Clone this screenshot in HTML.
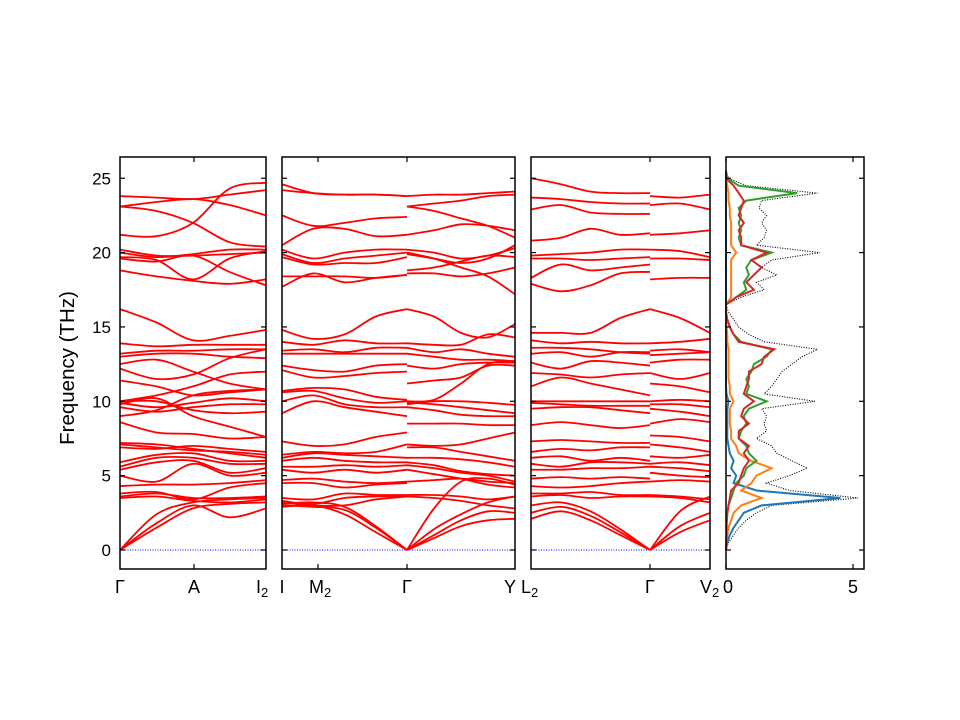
<!DOCTYPE html>
<html><head><meta charset="utf-8"><style>
html,body{margin:0;padding:0;background:#fff;}
svg{display:block;font-family:"Liberation Sans","DejaVu Sans",sans-serif;}
</style></head><body>
<svg id="fig" width="960" height="720" viewBox="0 0 960 720" xmlns="http://www.w3.org/2000/svg">
<rect width="960" height="720" fill="#fff"/>
<g id="marks"></g>
<g id="axes"></g>
<text x="0" y="0" transform="translate(74,368) rotate(-90)" text-anchor="middle" font-size="20.5">Frequency (THz)</text>
</svg>
<script>
// ---- data ----
const yTicks=[0,5,10,15,20,25];
const seg1=[[23.8,23.7,23.6,23.9,24.2],[23.1,23.4,23.6,23.2,22.5],[23.1,22.8,22.0,20.7,20.4],[21.2,21.1,22.0,24.3,24.7],[20.2,19.8,19.8,19.9,20.0],[20.0,19.7,19.9,20.2,20.2],[19.7,19.5,18.2,19.6,20.1],[19.6,19.4,19.8,18.7,17.8],[18.8,18.4,18.1,17.9,18.2],
[16.2,15.3,14.1,14.4,14.8],[13.9,13.7,13.8,13.8,13.8],[13.2,13.4,13.4,13.5,13.5],[13.0,13.2,13.2,13.0,12.9],[12.5,12.8,12.0,11.2,10.8],[12.2,11.5,11.8,12.9,13.5],[11.4,11.0,10.4,10.6,10.8],[10.0,10.4,11.0,11.8,12.0],[9.9,9.6,9.9,10.2,10.0],[9.6,9.3,9.6,9.8,9.8],[9.0,9.4,10.4,10.7,10.8],[10.0,10.0,9.4,9.2,9.3],[9.8,10.2,9.0,8.3,7.6],[8.6,7.9,7.8,7.5,7.6],
[7.2,7.1,6.8,6.5,6.2],[7.1,6.9,6.7,6.6,6.4],[6.9,6.8,7.0,6.8,6.6],[5.9,6.4,6.5,6.0,6.0],[5.6,6.2,6.2,5.8,5.8],[5.4,5.9,6.0,5.2,5.5],[5.0,4.6,5.8,5.0,5.2],[4.3,4.4,4.4,4.5,4.7],[3.8,3.9,3.4,4.2,4.5],[3.6,3.8,3.5,3.5,3.6],[3.5,3.6,3.3,3.2,3.4],[0,2.4,3.2,3.4,3.5],[0,1.8,3.0,2.2,2.8],[0,1.5,2.8,3.1,3.2]];
const seg2=[[24.6,24.0,23.9,23.9,23.8],[24.2,24.0,23.9,23.9,23.8],[22.5,21.8,22.0,22.3,22.4],[20.5,21.6,21.6,21.1,21.2],[20.2,19.6,20.0,20.2,20.2],[19.9,19.3,19.6,19.8,20.0],[19.7,19.2,19.3,19.3,19.7],[18.4,18.4,18.4,18.3,18.5],[17.7,18.6,18.0,18.3,18.5],
[14.8,14.2,14.5,15.7,16.2],[14.0,13.8,14.1,13.9,13.9],[13.4,13.5,13.3,13.6,13.6],[13.2,13.2,13.2,13.2,13.2],[12.4,12.1,12.0,12.4,12.5],[12.1,11.6,11.7,11.9,12.0],[10.7,10.9,10.8,10.3,10.1],[10.6,10.7,10.2,9.9,10.0],[10.0,10.4,9.8,9.6,9.6],[9.2,10.0,9.6,9.3,9.0],
[7.3,7.0,7.1,7.6,7.9],[6.4,6.6,6.5,6.6,7.1],[6.2,6.5,6.4,6.3,6.2],[6.0,6.2,6.0,5.9,5.9],[5.6,5.6,5.7,5.6,5.7],[5.4,5.2,5.4,5.2,5.4],[4.7,4.8,4.6,4.5,4.6],[4.5,4.5,4.2,4.4,4.5],[3.5,3.4,3.8,3.7,3.7],[3.3,3.1,3.5,3.6,3.6],[3.2,3.0,3.0,3.4,3.6],[3.0,2.9,2.7,1.5,0],[2.9,3.0,2.4,1.2,0],[3.1,3.2,2.9,1.6,0]];
const seg3=[[23.8,23.9,23.9,24.0,24.1],[23.1,23.3,23.5,23.8,23.9],[23.1,22.8,22.3,21.8,21.0],[21.2,21.5,21.9,21.8,21.5],[20.2,20.0,19.6,19.8,20.3],[19.9,19.6,19.3,19.6,20.5],[18.8,19.0,19.4,19.8,19.7],[20.0,19.6,19.0,18.4,17.2],[18.6,18.6,18.4,18.6,19.0],
[16.2,15.7,14.6,14.3,15.2],[13.9,13.8,13.8,14.5,14.3],[13.6,13.3,13.5,13.2,13.0],[13.2,13.0,12.8,12.8,12.7],[12.4,12.2,12.5,12.6,12.6],[11.2,11.4,11.6,12.4,12.4],[10.0,10.1,11.2,12.5,12.7],[9.9,9.8,9.6,9.4,9.2],[9.8,10.0,10.0,9.9,9.75],[9.6,9.4,9.1,9.0,9.0],[8.5,8.5,8.5,8.4,8.4],
[7.1,7.0,7.1,7.5,7.9],[6.9,6.9,6.6,6.3,6.0],[6.2,6.2,6.1,5.9,5.6],[5.9,5.7,5.3,5.1,5.0],[5.7,5.5,5.2,5.0,4.6],[5.4,5.1,4.8,4.4,4.2],[4.6,4.7,4.8,4.6,4.5],[3.7,3.7,3.6,3.4,3.6],[3.6,3.5,3.3,3.0,2.8],[0,2.8,4.6,4.8,4.4],[0,1.4,2.4,3.2,3.6],[0,1.0,2.0,2.6,2.5],[0,0.8,1.6,2.0,2.1]];
const seg4=[[25.0,24.6,24.1,24.0,24.0],[23.7,23.6,23.4,23.3,23.3],[22.9,23.2,22.7,22.6,22.6],[20.8,21.0,21.6,21.2,21.3],[19.8,19.9,20.0,20.2,20.2],[19.6,19.6,19.5,19.6,19.7],[18.3,19.2,18.8,19.0,19.2],[17.9,17.4,17.8,18.6,18.7],
[14.6,14.6,14.6,15.6,16.2],[14.1,13.9,14.0,13.9,13.9],[13.6,13.6,13.5,13.3,13.2],[13.2,13.3,13.0,13.3,13.3],[12.6,12.2,12.7,12.6,12.4],[11.9,11.8,11.6,11.8,11.9],[11.0,11.6,11.2,10.8,10.4],[10.0,10.0,10.0,10.0,10.0],[9.9,9.8,9.7,9.7,9.7],[9.5,9.6,9.6,9.4,9.2],[8.4,8.6,8.4,8.2,8.4],
[7.3,7.4,7.3,7.2,7.2],[6.6,6.8,6.7,6.9,6.9],[6.2,6.3,6.0,6.2,6.0],[5.8,5.6,5.9,5.9,5.8],[5.4,5.4,5.5,5.5,5.6],[4.8,4.9,4.8,4.9,4.8],[4.3,4.2,4.3,4.5,4.6],[3.8,3.8,3.9,3.7,3.7],[3.6,3.7,3.5,3.6,3.6],[3.0,3.2,2.6,1.4,0],[2.5,2.9,2.3,1.2,0],[2.1,2.6,2.0,1.0,0]];
const seg5=[[23.8,23.7,23.9],[23.2,23.3,22.9],[21.2,21.3,21.5],[20.2,20.1,19.7],[19.6,19.6,19.5],[18.2,18.3,18.3],[16.2,15.6,14.6],[13.9,14.0,14.2],[13.4,13.5,13.3],[13.1,13.2,13.3],[12.6,12.8,12.8],[11.9,11.5,11.9],[11.2,11.0,10.6],[10.0,10.1,10.0],[9.8,9.8,9.6],[9.5,9.3,9.0],[8.5,8.8,8.6],[7.7,7.6,7.3],[7.1,6.9,6.6],[6.3,6.2,6.4],[5.8,5.9,5.7],[5.6,5.5,5.3],[5.2,5.0,4.9],[4.6,4.7,4.6],[3.7,3.6,3.4],[3.6,3.5,3.2],[0,2.6,3.6],[0,1.6,2.5],[0,1.2,2.0]];
const dosFreq=[0,0.5,1,1.5,2,2.5,3,3.5,4,4.5,5,5.5,6,6.5,7,7.5,8,8.5,9,9.5,10,10.5,11,11.5,12,12.5,13,13.5,14,14.5,15,15.5,16,16.5,17,17.5,18,18.5,19,19.5,20,20.5,21,21.5,22,22.5,23,23.5,24,24.5,25,25.5];
const dosTotal=[0,0.1,0.3,0.5,0.8,1.2,1.8,5.2,2.5,1.6,2.5,3.2,2.6,2.0,1.8,1.2,1.6,1.5,1.6,1.4,3.5,1.5,1.8,2.0,2.2,2.6,3.0,3.6,1.5,0.9,0.5,0.3,0.1,0,0.6,1.5,1.2,2.0,1.4,1.8,3.7,1.2,1.5,1.6,1.4,1.6,1.3,1.4,3.6,0.8,0.1,0];
const dosBlue=[0,0.05,0.15,0.3,0.5,0.7,1.4,4.5,1.2,0.3,0.4,0.2,0.3,0.15,0.1,0.05,0.05,0.05,0.05,0.05,0.1,0.02,0,0,0,0,0,0,0,0,0,0,0,0,0,0,0,0,0,0,0,0,0,0,0,0,0,0,0,0,0,0];
const dosOrange=[0,0.02,0.05,0.1,0.2,0.3,0.6,1.4,0.6,1.0,1.2,1.8,1.0,0.5,0.4,0.2,0.2,0.15,0.15,0.15,0.3,0.15,0.15,0.1,0.1,0.1,0.1,0.1,0.05,0.05,0.02,0,0,0,0.2,0.2,0.2,0.2,0.2,0.2,0.4,0.2,0.2,0.2,0.2,0.15,0.15,0.1,0.1,0.05,0,0];
const dosGreen=[0,0.01,0.02,0.02,0.03,0.05,0.1,0.2,0.3,0.4,0.7,0.8,1.2,0.9,0.8,0.5,0.6,0.8,0.7,0.9,1.6,0.8,0.9,0.8,1.0,1.1,1.6,1.8,0.6,0.3,0.15,0.05,0,0,0.4,0.8,0.7,0.9,0.8,1.0,1.8,0.6,0.5,0.6,0.5,0.6,0.5,0.8,2.8,0.5,0.05,0];
const dosRed=[0,0.01,0.02,0.02,0.03,0.05,0.1,0.15,0.2,0.5,0.6,0.7,0.9,0.7,0.9,0.5,0.5,0.9,0.6,0.7,1.1,0.7,0.8,0.9,0.9,1.4,1.5,1.9,0.5,0.3,0.15,0.05,0,0,0.4,1.1,0.8,1.1,1.4,1.0,1.6,0.6,0.6,0.5,0.7,0.5,0.6,0.7,0.5,0.3,0,0];
// ---- layout ----
const Y0=550, PPT=14.87, TOP=157, BOT=569;
const yS=f=>Y0-f*PPT;
const panels=[{x0:120,x1:266},{x0:282,x1:515},{x0:531,x1:710},{x0:726,x1:864}];
const segs=[{d:seg1,x0:120,x1:266},{d:seg2,x0:282,x1:407},{d:seg3,x0:407,x1:515},{d:seg4,x0:531,x1:650},{d:seg5,x0:650,x1:710}];
const NS='http://www.w3.org/2000/svg';
const marks=document.getElementById('marks'), axes=document.getElementById('axes');
function mk(tag,attrs,parent){const e=document.createElementNS(NS,tag);for(const k in attrs)e.setAttribute(k,attrs[k]);parent.appendChild(e);return e;}
function cr(pts){let d='M'+pts[0][0].toFixed(1)+','+pts[0][1].toFixed(1);
 for(let i=0;i<pts.length-1;i++){const p0=pts[i-1]||pts[i],p1=pts[i],p2=pts[i+1],p3=pts[i+2]||p2;
  const c1=[p1[0]+(p2[0]-p0[0])/6,p1[1]+(p2[1]-p0[1])/6],c2=[p2[0]-(p3[0]-p1[0])/6,p2[1]-(p3[1]-p1[1])/6];
  d+='C'+c1[0].toFixed(1)+','+c1[1].toFixed(1)+' '+c2[0].toFixed(1)+','+c2[1].toFixed(1)+' '+p2[0].toFixed(1)+','+p2[1].toFixed(1);}
 return d;}
for(let i=0;i<3;i++){const p=panels[i];
 const l=mk('line',{x1:p.x0,x2:p.x1,y1:yS(0),y2:yS(0),stroke:'#0000ff','stroke-width':1,'stroke-dasharray':'1,1.5'},marks);
 
 }
segs.forEach(s=>{s.d.forEach(b=>{const n=b.length;
 const pts=b.map((v,i)=>[s.x0+(s.x1-s.x0)*i/(n-1),yS(v)]);
 const p=mk('path',{d:cr(pts),fill:'none',stroke:'#ff0000','stroke-width':1.8},marks);
 
 });});
const dX=v=>726+v*25.4;
const dosSeries=[[dosTotal,'#000','1,1.5',1.1,'dos-total'],[dosBlue,'#1f77b4','',2,'dos-blue'],[dosOrange,'#ff7f0e','',2,'dos-orange'],[dosGreen,'#2ca02c','',2,'dos-green'],[dosRed,'#d62728','',2,'dos-red']];
dosSeries.forEach(s=>{const pts=s[0].map((v,i)=>dX(v).toFixed(1)+','+yS(dosFreq[i]).toFixed(1)).join(' ');
 const a={points:pts,fill:'none',stroke:s[1],'stroke-width':s[3]};if(s[2])a['stroke-dasharray']=s[2];
 const p=mk('polyline',a,marks);
 
 });
panels.forEach((p,i)=>{
 const r=mk('rect',{x:p.x0,y:TOP,width:p.x1-p.x0,height:BOT-TOP,fill:'none',stroke:'#000','stroke-width':1.5},axes);
 
 
 yTicks.forEach(t=>{mk('line',{x1:p.x0,x2:p.x0+5,y1:yS(t),y2:yS(t),stroke:'#000','stroke-width':1.2},axes);
  mk('line',{x1:p.x1-5,x2:p.x1,y1:yS(t),y2:yS(t),stroke:'#000','stroke-width':1.2},axes);});});
yTicks.forEach(t=>{const e=mk('text',{x:111,y:yS(t)+6,'text-anchor':'end','font-size':17},axes);e.textContent=t;
 
 });
const kTicks=[194,318,407,650,853,726];
kTicks.forEach(x=>{mk('line',{x1:x,x2:x,y1:TOP,y2:TOP+5,stroke:'#000','stroke-width':1.2},axes);mk('line',{x1:x,x2:x,y1:BOT-5,y2:BOT,stroke:'#000','stroke-width':1.2},axes);});
const kLabels=[[120,'Γ',''],[194,'A',''],[262,'I','2'],[282,'I',''],[315,'M','2'],[407,'Γ',''],[510,'Y',''],[527,'L','2'],[650,'Γ',''],[706,'V','2'],[728,'0',''],[853,'5','']];
kLabels.forEach(k=>{const e=mk('text',{x:k[0],y:593,'text-anchor':k[2]?'start':'middle','font-size':18},axes);
 if(k[2]){e.setAttribute('x',k[0]-6);}
 e.textContent=k[1];
 if(k[2]){const s=mk('tspan',{'font-size':13,dy:4},e);s.textContent=k[2];}
 
 });
</script>
</body></html>
